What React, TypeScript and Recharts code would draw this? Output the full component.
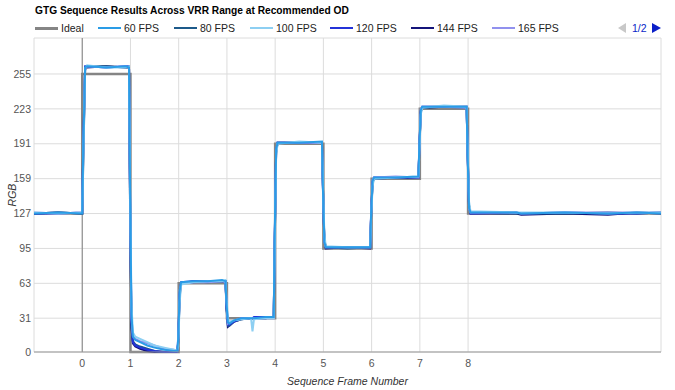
import { LineChart, Line, XAxis, YAxis, CartesianGrid, ReferenceLine } from 'recharts';

const TITLE = 'GTG Sequence Results Across VRR Range at Recommended OD';

const X_TICKS = [0, 1, 2, 3, 4, 5, 6, 7, 8];
const Y_TICKS = [0, 31, 63, 95, 127, 159, 191, 223, 255];

// ideal step response
const IDEAL_X = [-1, 0, 0, 1, 1, 2, 2, 3, 3, 4, 4, 5, 5, 6, 6, 7, 7, 8, 8, 12];
const IDEAL_Y = [127, 127, 255, 255, 0, 0, 63, 63, 31, 31, 191, 191, 95, 95, 159, 159, 223, 223, 127, 127];

// sample positions shared by the measured curves
const FRAME_X = [
  -1, -0.5, 0, 0.02, 0.06, 0.1, 0.5, 0.9, 0.97,
  0.99, 1.02, 1.05, 1.1, 1.2, 1.35, 1.5, 1.7, 1.9, 1.97,
  1.99, 2.02, 2.05, 2.3, 2.6, 2.9, 2.97,
  2.99, 3.02, 3.05, 3.15, 3.3, 3.5, 3.53, 3.56, 3.8, 3.97,
  3.99, 4.02, 4.05, 4.5, 4.97,
  4.99, 5.02, 5.05, 5.5, 5.97,
  5.99, 6.02, 6.05, 6.5, 6.97,
  6.99, 7.02, 7.05, 7.5, 7.97,
  7.99, 8.02, 8.05, 9, 9.1, 10, 10.9, 11.5, 12,
];

const FPS_60 = [
  127, 128, 127, 185, 261, 262, 261, 262, 261,
  160, 35, 14, 11, 9, 6, 4, 2, 1, 1,
  12, 56, 64, 65, 65, 66, 65,
  45, 27, 26, 29, 31, 31, 31, 31, 32, 32,
  105, 186, 192, 192, 193,
  150, 101, 96, 96, 96,
  128, 157, 160, 160, 161,
  190, 222, 225, 225, 225,
  180, 132, 128, 128, 127, 128, 127, 128, 127,
];
const FPS_80 = [
  127, 128, 127, 170, 259, 262, 262, 261, 262,
  140, 25, 10, 7, 5, 3, 1, 0, 0, 0,
  8, 50, 63, 65, 64, 65, 65,
  40, 24, 24, 28, 30, 31, 31, 31, 31, 32,
  95, 182, 192, 192, 192,
  155, 104, 96, 95, 96,
  125, 155, 159, 160, 160,
  185, 220, 224, 225, 224,
  185, 135, 128, 127, 127, 127, 128, 127, 128,
];
const FPS_100 = [
  128, 127, 128, 175, 260, 263, 261, 261, 262,
  170, 45, 18, 14, 12, 9, 6, 4, 2, 1,
  5, 45, 62, 64, 65, 65, 66,
  50, 30, 28, 29, 30, 31, 19, 30, 31, 31,
  90, 180, 191, 193, 192,
  160, 108, 97, 96, 96,
  122, 152, 159, 160, 161,
  182, 218, 224, 226, 225,
  190, 138, 129, 128, 128, 128, 127, 128, 128,
];
const FPS_120 = [
  127, 127, 128, 190, 262, 262, 261, 262, 262,
  150, 28, 9, 6, 4, 2, 1, 0, 0, 0,
  10, 52, 64, 65, 65, 65, 65,
  42, 25, 25, 28, 31, 31, 31, 32, 32, 32,
  100, 184, 192, 192, 192,
  152, 102, 96, 96, 96,
  127, 156, 160, 160, 160,
  188, 221, 225, 225, 225,
  183, 133, 127, 128, 127, 128, 127, 127, 128,
];
const FPS_144 = [
  127, 128, 127, 180, 261, 261, 262, 261, 261,
  145, 22, 8, 5, 3, 1, 0, 0, 0, 0,
  9, 54, 63, 64, 65, 65, 65,
  44, 23, 24, 28, 30, 31, 31, 31, 31, 32,
  98, 183, 192, 192, 192,
  153, 103, 95, 96, 95,
  126, 156, 159, 160, 160,
  187, 221, 224, 225, 225,
  184, 134, 127, 127, 126, 127, 126, 128, 127,
];
const FPS_165 = [
  128, 127, 128, 178, 260, 262, 261, 262, 261,
  155, 32, 15, 12, 10, 8, 6, 3, 2, 1,
  14, 57, 63, 64, 64, 65, 64,
  46, 26, 27, 29, 31, 31, 31, 31, 31, 31,
  102, 185, 192, 192, 192,
  151, 101, 96, 96, 96,
  129, 158, 160, 161, 160,
  189, 223, 225, 225, 224,
  181, 131, 128, 128, 127, 128, 128, 128, 128,
];

const SERIES = [
  { key: 'ideal', name: 'Ideal', color: '#858585', width: 3 },
  { key: 'fps60', name: '60 FPS', color: '#2a9ce6', width: 2 },
  { key: 'fps80', name: '80 FPS', color: '#1d5a8a', width: 2 },
  { key: 'fps100', name: '100 FPS', color: '#8dcff2', width: 2 },
  { key: 'fps120', name: '120 FPS', color: '#2433d8', width: 2 },
  { key: 'fps144', name: '144 FPS', color: '#14147a', width: 2 },
  { key: 'fps165', name: '165 FPS', color: '#9191ee', width: 2 },
];

// drawing order: ideal underneath, bright blue on top
const DRAW_ORDER = ['ideal', 'fps144', 'fps80', 'fps120', 'fps165', 'fps100', 'fps60'];

const LEGEND_LEFT = [35, 98, 174, 250, 330, 411, 492];

const idealRows = IDEAL_X.map((x, i) => ({ x, ideal: IDEAL_Y[i] }));
const rows = FRAME_X.map((x, i) => ({
  x,
  fps60: FPS_60[i],
  fps80: FPS_80[i],
  fps100: FPS_100[i],
  fps120: FPS_120[i],
  fps144: FPS_144[i],
  fps165: FPS_165[i],
}));

const FONT = 'Arial, "Liberation Sans", sans-serif';

export default function App() {
  return (
    <div style={{ position: 'absolute', left: 0, top: 0, width: 675, height: 390, background: '#fff', fontFamily: FONT }}>
      <div style={{ position: 'absolute', left: 35, top: 5, fontSize: 10.2, fontWeight: 'bold', color: '#000', whiteSpace: 'nowrap' }}>
        {TITLE}
      </div>
      {SERIES.map((s, i) => (
        <div key={s.key} style={{ position: 'absolute', left: LEGEND_LEFT[i], top: 21, height: 14, display: 'flex', alignItems: 'center', fontSize: 10.5, color: '#222', whiteSpace: 'nowrap' }}>
          <span style={{ display: 'inline-block', width: 23, height: s.width, background: s.color, marginRight: 3 }} />
          {s.name}
        </div>
      ))}
      <div style={{ position: 'absolute', left: 618, top: 21, height: 14, display: 'flex', alignItems: 'center', fontSize: 10.5, color: '#0b1fc8' }}>
        <span style={{ width: 0, height: 0, borderTop: '5px solid transparent', borderBottom: '5px solid transparent', borderRight: '8px solid #c8c8c8', marginRight: 6 }} />
        1/2
        <span style={{ width: 0, height: 0, borderTop: '5px solid transparent', borderBottom: '5px solid transparent', borderLeft: '9px solid #0b1fc8', marginLeft: 5 }} />
      </div>
      <LineChart width={675} height={390} margin={{ top: 38, right: 14, bottom: 0, left: 0 }}>
        <CartesianGrid stroke="#dcdcdc" strokeWidth={1} />
        <XAxis
          type="number"
          dataKey="x"
          domain={[-1, 12]}
          ticks={X_TICKS}
          height={38}
          tickSize={0}
          tickMargin={8}
          axisLine={{ stroke: '#999' }}
          tickLine={false}
          tick={{ fill: '#555', fontSize: 10.5, fontFamily: FONT }}
          allowDuplicatedCategory={false}
          label={{ value: 'Sequence Frame Number', position: 'insideBottom', offset: 5, fill: '#333', fontSize: 10.5, fontStyle: 'italic', fontFamily: FONT }}
        />
        <YAxis
          type="number"
          domain={[0, 288]}
          ticks={Y_TICKS}
          width={34}
          tickSize={0}
          tickMargin={3}
          axisLine={false}
          tickLine={false}
          tick={{ fill: '#555', fontSize: 10.5, fontFamily: FONT }}
          label={{ value: 'RGB', angle: -90, position: 'center', dx: -5, fill: '#333', fontSize: 10.5, fontStyle: 'italic', fontFamily: FONT }}
        />
        <ReferenceLine x={0} stroke="#808080" strokeWidth={1} />
        {DRAW_ORDER.map((k) => {
          const s = SERIES.find((d) => d.key === k)!;
          return (
            <Line
              key={s.key}
              data={s.key === 'ideal' ? idealRows : rows}
              dataKey={s.key}
              name={s.name}
              type="linear"
              stroke={s.color}
              strokeWidth={s.key === 'ideal' ? 2.5 : s.width}
              dot={false}
              activeDot={false}
              isAnimationActive={false}
            />
          );
        })}
      </LineChart>
    </div>
  );
}
